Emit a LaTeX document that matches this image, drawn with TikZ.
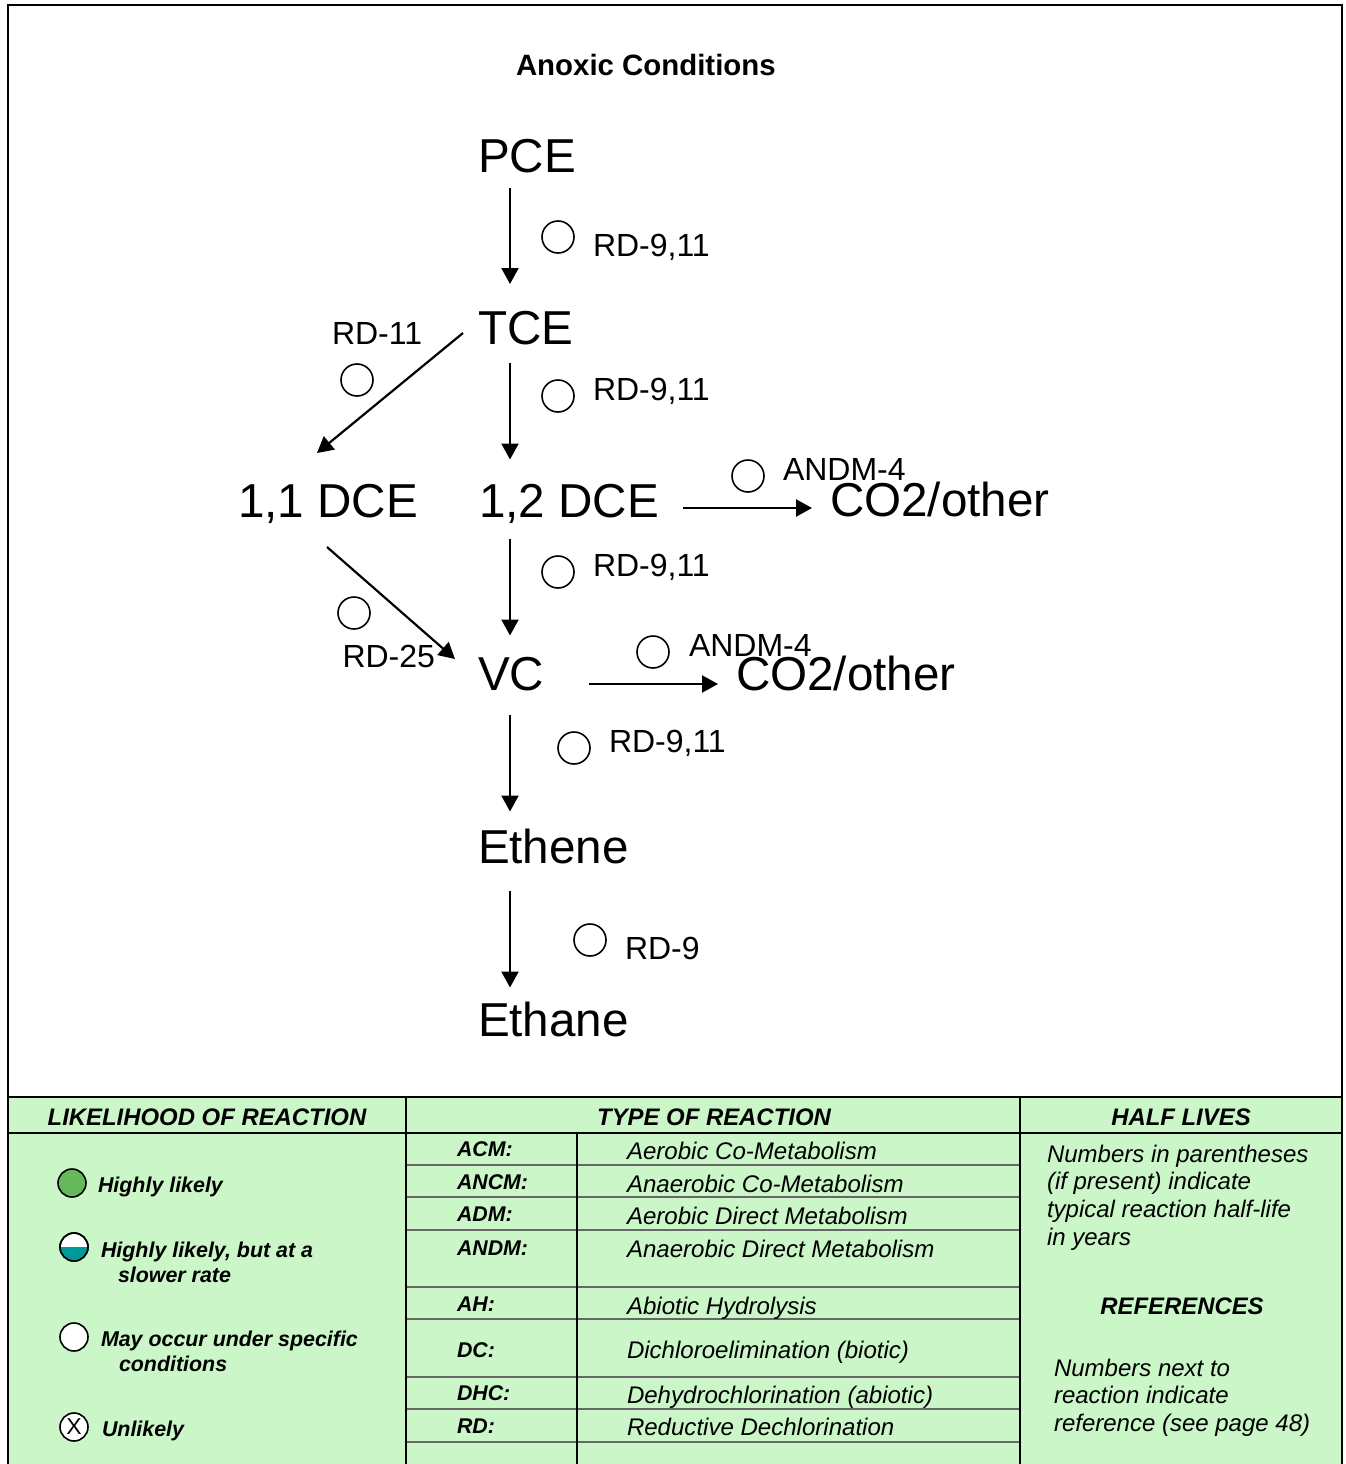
\documentclass[tikz,border=0pt]{standalone}
\usepackage{fontspec}
\setmainfont{Liberation Sans}
\usetikzlibrary{arrows.meta}
\definecolor{panel}{HTML}{CAF6C8}
\definecolor{likely}{HTML}{66B85C}
\definecolor{slowfill}{HTML}{009999}
\definecolor{rule}{HTML}{666666}
\newcommand{\fsize}[1]{\fontsize{#1}{#1}\selectfont}
\tikzset{
  x=1pt,y=-1pt,
  txt/.style={anchor=base west,inner sep=0pt,outer sep=0pt},
  chem/.style={txt,font=\fsize{47.6}},
  rlabel/.style={txt,font=\fsize{32}},
  ring/.style={circle,draw=black,line width=1.6pt,minimum size=32pt,inner sep=0pt},
  keyring/.style={circle,draw=black,line width=1.6pt,minimum size=28pt,inner sep=0pt,fill=white},
  flow/.style={line width=2.2pt,-{Triangle[width=17pt,length=16pt]}},
  frame/.style={line width=2.2pt,draw=black},
  thin rule/.style={line width=1.4pt,draw=rule},
  head/.style={anchor=base,inner sep=0pt,font=\fsize{23.9}\bfseries\itshape},
  key/.style={txt,font=\fsize{21.4}\bfseries\itshape},
  code/.style={txt,font=\fsize{21.3}\bfseries\itshape},
  desc/.style={txt,font=\fsize{24.05}\itshape},
  note/.style={txt,font=\fsize{24}\itshape},
}
\begin{document}
\begin{tikzpicture}
\useasboundingbox (0,0) rectangle (1346,1464);
\fill[white] (0,0) rectangle (1346,1464);
% panel
\fill[panel] (8,1097) rectangle (1342,1464);
% horizontal rules in the type table
\foreach \yy/\w in {1165/2,1197/1.2,1230/2,1287/1.2,1319/1.2,1377/2,1409/2,1442/2}
  \draw[thin rule,line width=\w pt] (407,\yy) -- (1020,\yy);
% frame
\draw[frame] (8,1464) -- (8,5) -- (1342,5) -- (1342,1464);
\draw[frame] (8,1097) -- (1342,1097);
\draw[frame] (8,1133) -- (1342,1133);
\draw[frame] (406,1097) -- (406,1464);
\draw[frame] (1020,1097) -- (1020,1464);
\draw[frame] (577,1133) -- (577,1464);

% title and species
\node[txt,font=\fsize{29.4}\bfseries] (title) at (516,76) {Anoxic Conditions};
\node[chem] (pce) at (478,172) {PCE};
\node[chem] (tce) at (478,344) {TCE};
\node[chem] (dcea) at (238,517) {1,1 DCE};
\node[chem] (dceb) at (479,517) {1,2 DCE};
\node[chem] (coa) at (830,516) {CO2/other};
\node[chem] (vc) at (478,690) {VC};
\node[chem] (cob) at (736,690) {CO2/other};
\node[chem] (ethene) at (478,863) {Ethene};
\node[chem] (ethane) at (478,1036) {Ethane};

% connectors
\draw[flow] ([shift={(32,16)}]pce.base west) -- ([shift={(32,-60)}]tce.base west);
\draw[flow] ([shift={(32,19)}]tce.base west) -- ([shift={(31,-57.5)}]dceb.base west);
\draw[flow] ([shift={(-15,-11)}]tce.base west) -- ([shift={(79,-64)}]dcea.base west);
\draw[flow] ([shift={(204,-9)}]dceb.base west) -- ([shift={(-18,-8)}]coa.base west);
\draw[flow] ([shift={(31,22)}]dceb.base west) -- ([shift={(32,-54.5)}]vc.base west);
\draw[flow] ([shift={(89,30)}]dcea.base west) -- ([shift={(-23,-31)}]vc.base west);
\draw[flow] ([shift={(111,-6)}]vc.base west) -- ([shift={(-18,-6)}]cob.base west);
\draw[flow] ([shift={(32,25)}]vc.base west) -- ([shift={(32,-51.5)}]ethene.base west);
\draw[flow] ([shift={(32,28)}]ethene.base west) -- ([shift={(32,-48.5)}]ethane.base west);

% reaction markers
\node[ring] (m1) at (558,237) {};
\node[ring] (m2) at (558,396) {};
\node[ring] (m3) at (357,380) {};
\node[ring] (m4) at (748,476) {};
\node[ring] (m5) at (558,572) {};
\node[ring] (m6) at (354,613) {};
\node[ring] (m7) at (653,652) {};
\node[ring] (m8) at (574,748) {};
\node[ring] (m9) at (590,940) {};

% reaction labels
\node[rlabel] (r1) at (593,256) {RD-9,11};
\node[rlabel] (r2) at (593,400) {RD-9,11};
\node[rlabel] (r3) at (332,344) {RD-11};
\node[rlabel] (r4) at (783,480) {ANDM-4};
\node[rlabel] (r5) at (593,576) {RD-9,11};
\node[rlabel] (r6) at (342.5,667) {RD-25};
\node[rlabel] (r7) at (689,656) {ANDM-4};
\node[rlabel] (r8) at (609,752) {RD-9,11};
\node[rlabel] (r9) at (625,959) {RD-9};

% headers
\node[head] (h1) at (207,1125) {LIKELIHOOD OF REACTION};
\node[head] (h2) at (714,1125) {TYPE OF REACTION};
\node[head] (h3) at (1181,1125) {HALF LIVES};

% likelihood key
\node[keyring,fill=likely] (k1) at (72,1183) {};
\node[keyring] (k2) at (74,1247) {};
\fill[slowfill] (k2.west) arc[start angle=180,delta angle=180,radius=14pt] -- cycle;
\draw[black,line width=1.6pt] (k2.center) circle[radius=14pt];
\node[keyring] (k3) at (74,1337) {};
\node[keyring,font=\fsize{23}] (k4) at (74,1427) {X};
\node[key] (t1) at (98,1192) {Highly likely};
\node[key] (t2) at (101,1257) {Highly likely, but at a};
\node[key] (t2b) at (118,1282) {slower rate};
\node[key] (t3) at (101,1346) {May occur under specific};
\node[key] (t3b) at (119,1371) {conditions};
\node[key] (t4) at (102,1436) {Unlikely};

% type table
\node[code] (c1) at (457,1156) {ACM:};
\node[code] (c2) at (457,1189) {ANCM:};
\node[code] (c3) at (457,1221) {ADM:};
\node[code] (c4) at (457,1255) {ANDM:};
\node[code] (c5) at (457,1311) {AH:};
\node[code] (c6) at (457,1357) {DC:};
\node[code] (c7) at (457,1400) {DHC:};
\node[code] (c8) at (457,1433) {RD:};
\node[desc] (d1) at (627,1159) {Aerobic Co-Metabolism};
\node[desc] (d2) at (627,1192) {Anaerobic Co-Metabolism};
\node[desc] (d3) at (627,1224) {Aerobic Direct Metabolism};
\node[desc] (d4) at (627,1257) {Anaerobic Direct Metabolism};
\node[desc] (d5) at (627,1314) {Abiotic Hydrolysis};
\node[desc] (d6) at (627,1358) {Dichloroelimination (biotic)};
\node[desc] (d7) at (627,1403) {Dehydrochlorination (abiotic)};
\node[desc] (d8) at (627,1435) {Reductive Dechlorination};

% notes
\node[note] (n1) at (1047,1162) {Numbers in parentheses};
\node[note] (n2) at (1047,1189) {(if present) indicate};
\node[note] (n3) at (1047,1217) {typical reaction half-life};
\node[note] (n4) at (1047,1245) {in years};
\node[head] (n5) at (1182,1314) {REFERENCES};
\node[note] (n6) at (1054,1376) {Numbers next to};
\node[note] (n7) at (1054,1403) {reaction indicate};
\node[note] (n8) at (1054,1431) {reference (see page 48)};
\end{tikzpicture}
\end{document}
